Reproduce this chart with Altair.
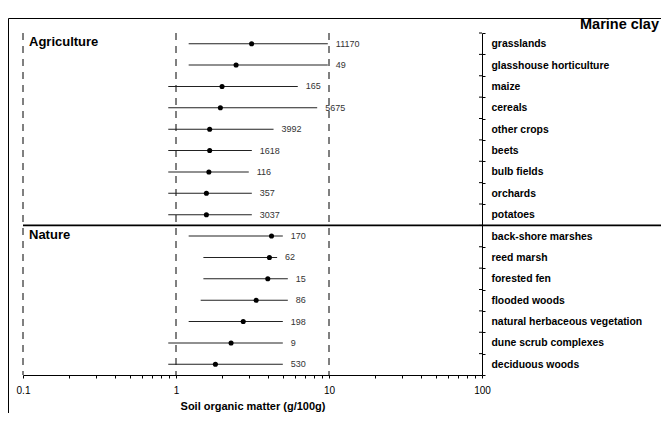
import altair as alt
import pandas as pd

categories = ["grasslands", "glasshouse horticulture", "maize", "cereals", "other crops",
              "beets", "bulb fields", "orchards", "potatoes",
              "back-shore marshes", "reed marsh", "forested fen", "flooded woods",
              "natural herbaceous vegetation", "dune scrub complexes", "deciduous woods"]
median = [3.12, 2.47, 2.0, 1.95, 1.66, 1.66, 1.64, 1.58, 1.58,
          4.21, 4.08, 3.98, 3.34, 2.75, 2.29, 1.81]
low = [1.21, 1.21, 0.89, 0.89, 0.89, 0.89, 0.89, 0.89, 0.89,
       1.21, 1.51, 1.51, 1.45, 1.21, 0.89, 0.89]
high = [9.82, 9.82, 6.25, 8.37, 4.34, 3.13, 2.99, 3.13, 3.13,
        4.99, 4.58, 5.38, 5.38, 4.99, 4.99, 4.99]
counts = [11170, 49, 165, 5675, 3992, 1618, 116, 357, 3037,
          170, 62, 15, 86, 198, 9, 530]

group_names = ["Agriculture", "Nature"]
group_first = ["grasslands", "back-shore marshes"]
dashed_at = [0.1, 1, 10]
all_ticks = [0.1, 0.2, 0.3, 0.4, 0.5, 0.6, 0.7, 0.8, 0.9,
             1, 2, 3, 4, 5, 6, 7, 8, 9,
             10, 20, 30, 40, 50, 60, 70, 80, 90, 100]
title_text = "Marine clay"
x_title = "Soil organic matter (g/100g)"

W, H = 459, 342
PAD_L, PAD_T, PAD_R, PAD_B = 15, 25, 179, 38
FONT = "Liberation Sans"

df = pd.DataFrame({"cat": categories, "med": median, "lo": low, "hi": high, "n": counts})
gdf = pd.DataFrame({"name": group_names, "cat": group_first, "x": [0.1, 0.1]})
ddf = pd.DataFrame({"x": dashed_at})

xscale = alt.Scale(type="log", domain=[0.1, 100], nice=False)
yscale = alt.Scale(domain=categories, paddingInner=0, paddingOuter=0)

label_expr = "indexof([0.1,1,10,100], datum.value) >= 0 ? format(datum.value, '~g') : ''"

base = alt.Chart(df)

dashed = alt.Chart(ddf).mark_rule(color="#000", strokeWidth=1, strokeDash=[7, 6]).encode(
    x=alt.X("x:Q", scale=xscale,
            axis=alt.Axis(values=all_ticks, labelExpr=label_expr, tickSize=3,
                          labelPadding=7, labelFontSize=10, labelFont=FONT, labelColor="#000",
                          labelOverlap=False, labelFlush=False, grid=False,
                          domainColor="#000", tickColor="#000",
                          title=x_title, titleFont=FONT, titleFontSize=11,
                          titleFontWeight="bold", titleColor="#000",
                          titleY=34.5, titleBaseline="alphabetic"))
)

ranges = base.mark_rule(color="#222", strokeWidth=1.1).encode(
    x=alt.X("lo:Q", scale=xscale),
    x2="hi:Q",
    y=alt.Y("cat:N", scale=yscale, sort=categories,
            axis=alt.Axis(orient="right", title=None, tickBand="extent", tickSize=3,
                          labelPadding=6, labelFont=FONT, labelFontSize=10.4,
                          labelFontWeight="bold", labelColor="#000",
                          domainColor="#000", tickColor="#000", grid=False))
)

points = base.mark_circle(color="#000", opacity=1, size=26).encode(
    x=alt.X("med:Q", scale=xscale),
    y=alt.Y("cat:N", scale=yscale, sort=categories),
)

nlabels = base.mark_text(align="left", baseline="middle", dx=8, fontSize=9,
                         font=FONT, color="#333").encode(
    x=alt.X("hi:Q", scale=xscale),
    y=alt.Y("cat:N", scale=yscale, sort=categories),
    text="n:Q",
)

glabels = alt.Chart(gdf).mark_text(align="left", baseline="alphabetic", dx=6, dy=2.5,
                                   fontSize=13, fontWeight="bold", font=FONT,
                                   color="#000").encode(
    x=alt.X("x:Q", scale=xscale),
    y=alt.Y("cat:N", scale=yscale, sort=categories),
    text="name:N",
)

stubs = base.mark_rule(color="#000", strokeWidth=1, xOffset=-3, x2Offset=0).encode(
    x=alt.datum(100, scale=xscale),
    x2=alt.datum(100),
    y=alt.Y("cat:N", scale=yscale, sort=categories, bandPosition=0),
)

sep = alt.Chart(pd.DataFrame({"cat": [group_first[1]]})).mark_rule(
    color="#000", strokeWidth=1.6).encode(
    x=alt.datum(0.1, scale=xscale),
    x2=alt.value(W + PAD_R),
    y=alt.Y("cat:N", scale=yscale, sort=categories, bandPosition=0),
)

frame_top = alt.Chart(pd.DataFrame({"a": [0]})).mark_rule(color="#000", strokeWidth=1).encode(
    x=alt.value(-PAD_L + 0.5), x2=alt.value(W + PAD_R), y=alt.value(-14.5))
frame_left = alt.Chart(pd.DataFrame({"a": [0]})).mark_rule(color="#000", strokeWidth=1).encode(
    x=alt.value(-PAD_L + 0.5), y=alt.value(-14.5), y2=alt.value(H + PAD_B))

title = alt.Chart(pd.DataFrame({"t": [title_text]})).mark_text(
    align="right", baseline="alphabetic", fontSize=14.5, fontWeight="bold",
    font=FONT, color="#000").encode(
    x=alt.value(W + PAD_R - 2), y=alt.value(-4.5), text="t:N")

chart = alt.layer(dashed, ranges, points, nlabels, glabels, stubs, sep,
                  frame_top, frame_left, title).properties(
    width=W, height=H,
    padding={"left": PAD_L, "top": PAD_T, "right": PAD_R, "bottom": PAD_B},
    autosize=alt.AutoSizeParams(type="none"),
    background="white",
).configure_view(stroke=None)

chart.save("out.html", embed_options={"renderer": "svg", "actions": False})
